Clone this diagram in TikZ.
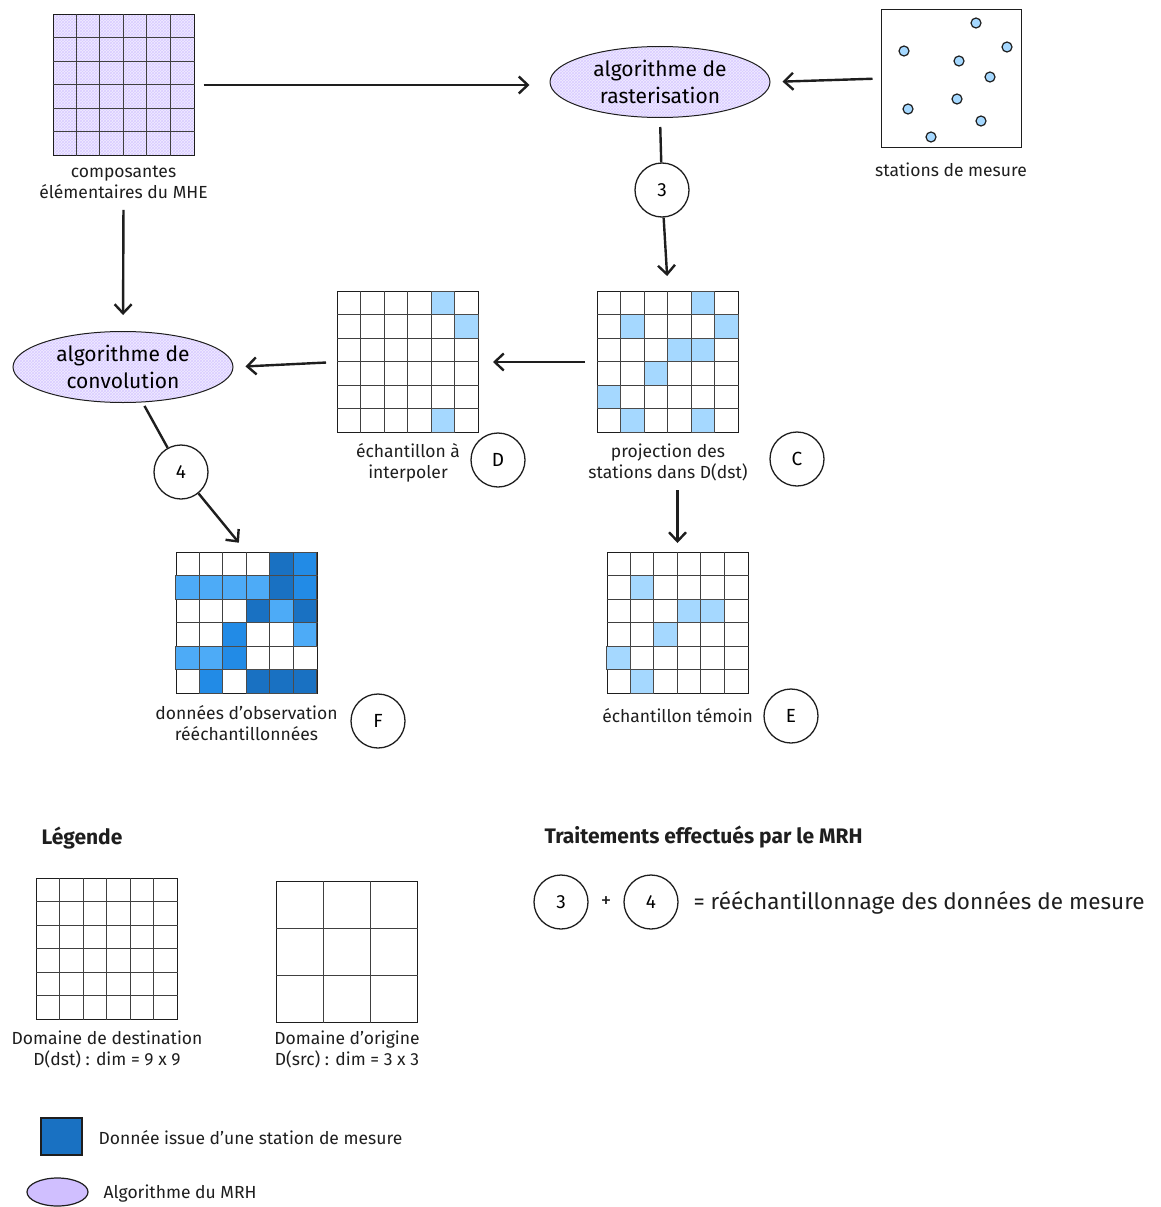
\documentclass[tikz,border=0pt]{standalone}
\usepackage{fontspec}
\setmainfont{Fira Sans}
\usetikzlibrary{positioning,arrows.meta,calc,shapes.geometric,patterns}

\definecolor{encre}{HTML}{1E1E1E}
\definecolor{bleuclair}{HTML}{A5D8FF}
\definecolor{bleu}{HTML}{4DABF7}
\definecolor{bleumoyen}{HTML}{228BE6}
\definecolor{bleufonce}{HTML}{1971C2}
\definecolor{lavande}{HTML}{D0BFFF}

% grille : nom, centre, cases par cote, options de remplissage
\newcommand{\grille}[4]{%
  \node[grillebox,#4] (#1) at #2 {};
  \pgfmathsetmacro{\pas}{141/#3}
  \pgfmathtruncatemacro{\der}{#3-1}
  \foreach \k in {1,...,\der}{
    \draw[gridline] ($(#1.north west)+(\k*\pas,0)$) -- ($(#1.south west)+(\k*\pas,0)$);
    \draw[gridline] ($(#1.north west)+(0,\k*\pas)$) -- ($(#1.north east)+(0,\k*\pas)$);
  }
}
% case coloree : grille, ligne, colonne, couleur
\newcommand{\cellule}[4]{%
  \draw[cellbox,fill=#4] ($(#1.north west)+(#3*23.5,#2*23.5)$) rectangle ++(23.5,23.5);
}

\begin{document}
\begin{tikzpicture}[x=1pt,y=-1pt,
   grillebox/.style={draw=encre,line width=1pt,minimum size=141pt,inner sep=0pt},
   gridline/.style={draw=encre!85,line width=0.8pt},
   cellbox/.style={draw=encre!80,line width=0.9pt},
   hachure/.style={preaction={fill=lavande!30},pattern=crosshatch,pattern color=lavande!80},
   algo/.style={ellipse,draw=encre,line width=1pt,hachure,minimum width=220pt,
     minimum height=71pt,inner sep=-2pt,align=center,font=\fontsize{21}{27}\selectfont},
   etape/.style={circle,draw=encre,line width=1.3pt,fill=white,minimum size=54pt,
     inner sep=0pt,font=\fontsize{19}{22}\selectfont},
   lbl/.style={align=center,text=encre,font=\fontsize{17.5}{21}\selectfont},
   titre/.style={text=encre,font=\fontsize{21}{24}\selectfont\bfseries},
   station/.style={circle,draw=encre,line width=1.2pt,fill=bleuclair,minimum size=10pt,inner sep=0pt},
   fleche/.style={draw=encre,line width=2.4pt,-{Straight Barb[length=9pt,width=17pt]}},
   trait/.style={draw=encre,line width=2.4pt}]
  \useasboundingbox (0,0) rectangle (1161,1207);

  % grilles du schema
  \grille{A}{(123.5,85)}{6}{hachure}
  \grille{C}{(668,362)}{6}{fill=white}
  \grille{D}{(408,362)}{6}{fill=white}
  \grille{F}{(246.5,623)}{6}{fill=white}
  \grille{E}{(677.5,623)}{6}{fill=white}

  \foreach \r/\c in {0/4,1/1,1/5,2/3,2/4,3/2,4/0,5/1,5/4}
    \cellule{C}{\r}{\c}{bleuclair};
  \foreach \r/\c in {0/4,1/5,5/4}
    \cellule{D}{\r}{\c}{bleuclair};
  \foreach \r/\c in {1/1,2/3,2/4,3/2,4/0,5/1}
    \cellule{E}{\r}{\c}{bleuclair};
  \foreach \r/\c/\col in {0/4/bleufonce,0/5/bleumoyen,1/0/bleu,1/1/bleu,1/2/bleu,1/3/bleu,
      1/4/bleufonce,1/5/bleumoyen,2/3/bleufonce,2/4/bleu,2/5/bleufonce,3/2/bleumoyen,
      3/5/bleu,4/0/bleu,4/1/bleu,4/2/bleumoyen,5/1/bleumoyen,5/3/bleufonce,
      5/4/bleufonce,5/5/bleufonce}
    \cellule{F}{\r}{\c}{\col};

  % stations de mesure
  \node[draw=encre,line width=1pt,minimum width=140pt,minimum height=137pt] (S) at (951,78.5) {};
  \foreach \p [count=\i] in {(976,23),(904,51),(1007,47),(959,61),(990,77),
      (957,99),(908,109),(981,121),(931,137)}
    \node[station] (s\i) at \p {};

  % algorithmes
  \node[algo] (R) at (660,82) {algorithme de\\rasterisation};
  \node[algo] (V) at (123,367) {algorithme de\\convolution};

  % libelles
  \node[lbl,below=6pt of A] (lA) {composantes\\élémentaires du MHE};
  \node[lbl,below=12pt of S] (lS) {stations de mesure};
  \node[lbl,below=7pt of C] (lC) {projection des\\stations dans D(dst)};
  \node[lbl,below=7pt of D] (lD) {échantillon à\\interpoler};
  \node[lbl,below=8pt of F] (lF) {données d'observation\\rééchantillonnées};
  \node[lbl,below=11pt of E] (lE) {échantillon témoin};

  % etapes
  \node[etape] (n3) at (662,190) {3};
  \node[etape] (n4) at (181,472) {4};
  \node[etape] (nC) at (797,459) {C};
  \node[etape] (nD) at (498,460) {D};
  \node[etape] (nE) at (791,716) {E};
  \node[etape] (nF) at (378,721) {F};

  % fleches
  \draw[fleche,shorten <=9pt,shorten >=20pt] (A.east) -- (A.east -| R.west);
  \draw[fleche,shorten <=8pt,shorten >=12pt] (S.west) -- (R.east);
  \draw[trait,shorten <=9pt] (R.south) -- (n3);
  \draw[fleche,shorten >=15pt] (n3) -- (C.north);
  \draw[fleche,shorten <=12pt,shorten >=14pt] (C.west) -- (D.east);
  \draw[fleche,shorten <=11pt,shorten >=12pt] (D.west) -- (V.east);
  \draw[fleche,shorten <=8pt,shorten >=16pt] (lA.south) -- (V.north);
  \draw[trait,shorten <=4pt] (V) -- (n4);
  \draw[fleche,shorten >=12pt] (n4) -- (F.north);
  \draw[fleche,shorten <=6pt,shorten >=9pt] (lC.south -| E.north) -- (E.north);

  % legende
  \node[titre,anchor=west] (tLeg) at (38,838) {Légende};
  \grille{L1}{(107,949)}{6}{fill=white}
  \grille{L2}{(347,952)}{3}{fill=white}
  \node[lbl,below=7pt of L1] (lL1) {Domaine de destination\\D(dst) : dim = 9 x 9};
  \node[lbl,below=4pt of L2] (lL2) {Domaine d'origine\\D(src) : dim = 3 x 3};
  \node[draw=encre,line width=1.2pt,fill=bleufonce,minimum width=41pt,minimum height=37pt] (lgCase) at (61.5,1136.5) {};
  \node[lbl,anchor=west] (lgTxt1) at (95,1138) {Donnée issue d'une station de mesure};
  \node[ellipse,draw=encre,line width=1.2pt,fill=lavande,minimum width=61pt,minimum height=28pt] (lgAlgo) at (57.5,1192) {};
  \node[lbl,anchor=west] (lgTxt2) at (100,1194) {Algorithme du MRH};

  % traitements
  \node[titre,anchor=west] (tTrt) at (541,837) {Traitements effectués par le MRH};
  \node[etape] (t3) at (561,902) {3};
  \node[lbl,font=\fontsize{21}{24}\selectfont] (plus) at (606,902) {+};
  \node[etape] (t4) at (651,902) {4};
  \node[lbl,anchor=west,font=\fontsize{22.5}{26}\selectfont] (res) at (690,903) {= rééchantillonnage des données de mesure};
\end{tikzpicture}
\end{document}
